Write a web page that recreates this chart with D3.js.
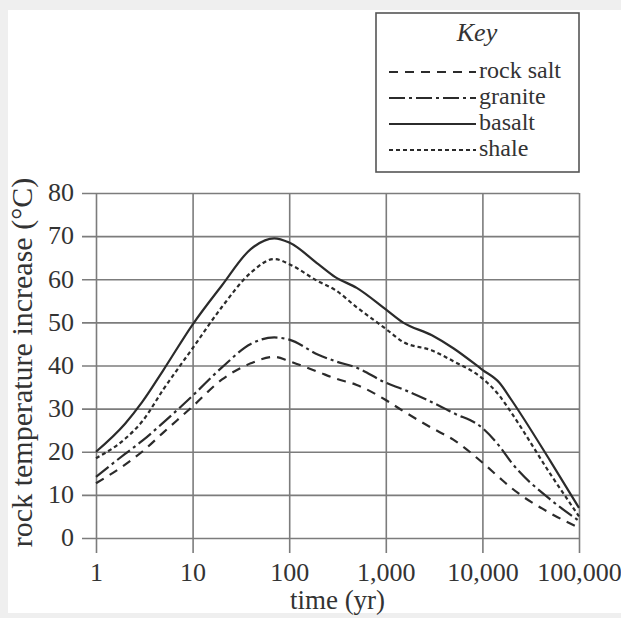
<!DOCTYPE html>
<html>
<head>
<meta charset="utf-8">
<script src="https://cdn.jsdelivr.net/npm/d3@7"></script>
<style>
  body { margin: 0; background: #efefef; }
  svg text { font-family: "Liberation Serif", "Times New Roman", serif; fill: #333; }
</style>
</head>
<body>
<svg id="chart" width="621" height="618"></svg>
<script>
/* rock temperature increase vs time, log x */
const times = [1, 2, 3, 5, 10, 20, 40, 70, 100, 200, 300, 500, 1000, 1500, 3000, 5000, 10000, 15000, 20000, 50000, 100000]
const rockSalt = [12.7, 17, 20, 24.5, 30.5, 36.7, 40.5, 42, 41, 38.5, 37, 35.5, 32, 29.5, 25.5, 22.8, 17.5, 14, 11.6, 5.8, 2.4]
const granite = [14.2, 19.5, 22.5, 26.8, 33, 39.5, 45, 46.5, 46, 42.5, 41, 39.5, 36, 34.5, 31.5, 29, 25.5, 21.3, 17.5, 9, 4]
const basalt = [20, 26.5, 31.5, 39, 49.5, 58.5, 67, 69.5, 68.5, 63.5, 60.5, 58, 53, 50, 47, 44, 39, 36, 32, 18, 7]
const shale = [18.5, 23, 27, 34.5, 44, 53.5, 61.5, 64.7, 63.5, 59.5, 57.5, 53.5, 48.5, 45.5, 43.5, 41, 37, 33, 29, 15, 5]

const seriesNames = ['rock salt', 'granite', 'basalt', 'shale']
const seriesValues = [rockSalt, granite, basalt, shale]
const dashes = ['9,7', '16,4,3,4', null, '4,3']

const xTickValues = [1, 10, 100, 1000, 10000, 100000]
const xTickLabels = ['1', '10', '100', '1,000', '10,000', '100,000']
const yTickValues = [0, 10, 20, 30, 40, 50, 60, 70, 80]

const plot = { left: 96, right: 579, top: 193, bottom: 538 }
const gridColor = '#7c7c7c'
const lineColor = '#2b2b2b'

const svg = d3.select('#chart')

// white page area on a grey frame
svg.append('rect')
    .attr('x', 8).attr('y', 10)
    .attr('width', 613).attr('height', 603)
    .attr('fill', '#fff')

const x = d3.scaleLog()
    .domain([1, 100000])
    .range([plot.left, plot.right])

const y = d3.scaleLinear()
    .domain([0, 80])
    .range([plot.bottom, plot.top])

const yAxis = d3.axisLeft(y)
    .tickValues(yTickValues)
    .tickSizeInner(-(plot.right - plot.left + 14))
    .tickSizeOuter(0)
    .tickPadding(8)

const xAxis = d3.axisBottom(x)
    .tickValues(xTickValues)
    .tickFormat((d, i) => xTickLabels[i])
    .tickSizeInner(-(plot.bottom - plot.top + 15))
    .tickSizeOuter(0)
    .tickPadding(10)

const gy = svg.append('g')
    .attr('transform', `translate(${plot.left - 14},0)`)
    .call(yAxis)

const gx = svg.append('g')
    .attr('transform', `translate(0,${plot.bottom + 15})`)
    .call(xAxis)

;[gx, gy].forEach(g => {
    g.select('.domain').remove()
    g.selectAll('line').attr('stroke', gridColor).attr('stroke-width', 1.6)
    g.selectAll('text')
        .style('font-family', '"Liberation Serif", serif')
        .style('font-size', '26px')
        .attr('fill', '#333')
})
gy.selectAll('text').attr('dy', '0.3em')

// axis titles
svg.append('text')
    .attr('x', (plot.left + plot.right) / 2)
    .attr('y', 609)
    .attr('text-anchor', 'middle')
    .style('font-size', '27px')
    .text('time (yr)')

svg.append('text')
    .attr('transform', `translate(32,${(plot.top + plot.bottom) / 2 - 3}) rotate(-90)`)
    .attr('text-anchor', 'middle')
    .style('font-size', '30px')
    .text('rock temperature increase (°C)')

// curves
const line = d3.line()
    .x(d => x(d[0]))
    .y(d => y(d[1]))
    .curve(d3.curveMonotoneX)

seriesValues.forEach((vals, i) => {
    svg.append('path')
        .datum(times.map((t, j) => [t, vals[j]]))
        .attr('fill', 'none')
        .attr('stroke', lineColor)
        .attr('stroke-width', 2.2)
        .attr('stroke-dasharray', dashes[i])
        .attr('d', line)
})

// key
const key = svg.append('g')
key.append('rect')
    .attr('x', 376).attr('y', 13)
    .attr('width', 203).attr('height', 159)
    .attr('fill', '#fff')
    .attr('stroke', '#555')
    .attr('stroke-width', 1.6)

key.append('text')
    .attr('x', 477).attr('y', 41)
    .attr('text-anchor', 'middle')
    .style('font-size', '26px')
    .style('font-style', 'italic')
    .text('Key')

const row = key.selectAll('g.row')
    .data(seriesNames)
    .enter()
    .append('g')
    .attr('class', 'row')
    .attr('transform', (d, i) => `translate(0,${72 + i * 26})`)

row.append('line')
    .attr('x1', 389).attr('x2', 476)
    .attr('stroke', lineColor)
    .attr('stroke-width', 2.2)
    .attr('stroke-dasharray', (d, i) => dashes[i])

row.append('text')
    .attr('x', 479).attr('y', 6)
    .style('font-size', '24px')
    .text(d => d)
</script>
</body>
</html>
